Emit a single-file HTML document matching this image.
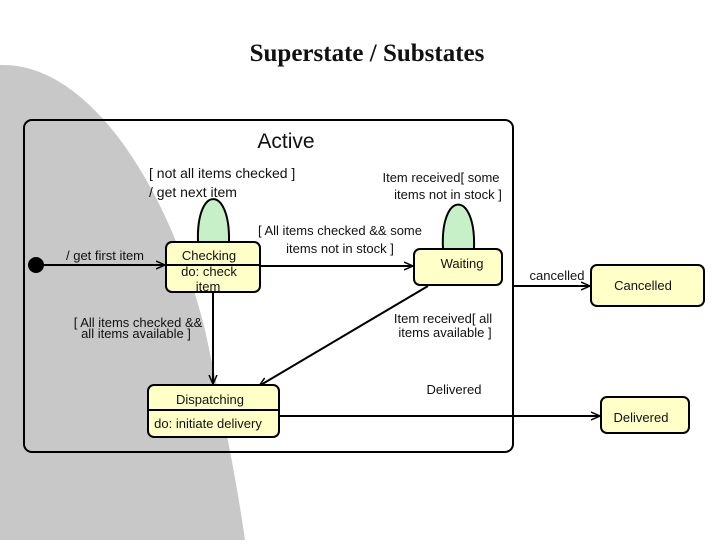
<!DOCTYPE html>
<html><head><style>
body{margin:0;width:720px;height:540px;background:#fff;overflow:hidden}
svg text{font-family:"Liberation Sans",sans-serif;font-size:13px;fill:#111}
</style></head><body>
<svg width="720" height="540" viewBox="0 0 720 540">
<defs><marker id="a" markerWidth="10" markerHeight="10" refX="9" refY="5" orient="auto" markerUnits="userSpaceOnUse"><path d="M0,1 L9,5 L0,9" fill="none" stroke="#000" stroke-width="1.5"/></marker></defs>
<path d="M0,65 C90,62 170,190 205,330 C220,400 235,470 245,540 L0,540 Z" fill="#c8c8c8"/>
<text x="367" y="61" text-anchor="middle" style="font-family:'Liberation Serif',serif;font-size:25px;font-weight:bold">Superstate / Substates</text>
<rect x="24" y="120" width="489" height="332" rx="8" fill="none" stroke="#000" stroke-width="2"/>
<text x="286" y="148" text-anchor="middle" style="font-size:21px">Active</text>
<text x="149" y="178" style="font-size:14px">[ not all items checked ]</text>
<text x="149" y="197" style="font-size:14px">/ get next item</text>
<text x="441" y="182" text-anchor="middle">Item received[ some</text>
<text x="448" y="199" text-anchor="middle">items not in stock ]</text>
<text x="340" y="235" text-anchor="middle">[ All items checked &amp;&amp; some</text>
<text x="340" y="253" text-anchor="middle">items not in stock ]</text>
<text x="105" y="260" text-anchor="middle">/ get first item</text>
<text x="138" y="327" text-anchor="middle">[ All items checked &amp;&amp;</text>
<text x="136" y="338" text-anchor="middle">all items available ]</text>
<text x="443" y="323" text-anchor="middle">Item received[ all</text>
<text x="445" y="337" text-anchor="middle">items available ]</text>
<text x="454" y="394" text-anchor="middle">Delivered</text>
<text x="557" y="280" text-anchor="middle">cancelled</text>
<path d="M198,242 C196,185 230,185 229,241" fill="#c8f0c8" stroke="#000" stroke-width="2"/>
<path d="M443,249 C440,190 476,190 474,248" fill="#c8f0c8" stroke="#000" stroke-width="2"/>
<circle cx="36" cy="265" r="8" fill="#000"/>
<line x1="44" y1="265" x2="165" y2="265" stroke="#000" stroke-width="2" marker-end="url(#a)"/>
<line x1="260" y1="266" x2="413" y2="266" stroke="#000" stroke-width="2" marker-end="url(#a)"/>
<line x1="213" y1="292" x2="213" y2="384" stroke="#000" stroke-width="2" marker-end="url(#a)"/>
<line x1="428" y1="286" x2="259" y2="386" stroke="#000" stroke-width="2" marker-end="url(#a)"/>
<line x1="513" y1="286" x2="590" y2="286" stroke="#000" stroke-width="2" marker-end="url(#a)"/>
<line x1="279" y1="416" x2="600" y2="416" stroke="#000" stroke-width="2" marker-end="url(#a)"/>
<rect x="166" y="242" width="94" height="50" rx="6" fill="#ffffc8" stroke="#000" stroke-width="2"/>
<line x1="166" y1="265" x2="260" y2="265" stroke="#000" stroke-width="2"/>
<text x="209" y="260" text-anchor="middle">Checking</text>
<text x="209" y="276" text-anchor="middle">do: check</text>
<text x="208" y="291" text-anchor="middle">item</text>
<rect x="414" y="249" width="88" height="36" rx="6" fill="#ffffc8" stroke="#000" stroke-width="2"/>
<text x="462" y="268" text-anchor="middle">Waiting</text>
<rect x="591" y="265" width="113" height="41" rx="6" fill="#ffffc8" stroke="#000" stroke-width="2"/>
<text x="643" y="290" text-anchor="middle">Cancelled</text>
<rect x="601" y="397" width="88" height="36" rx="6" fill="#ffffc8" stroke="#000" stroke-width="2"/>
<text x="641" y="422" text-anchor="middle">Delivered</text>
<rect x="148" y="385" width="131" height="52" rx="6" fill="#ffffc8" stroke="#000" stroke-width="2"/>
<line x1="148" y1="410" x2="279" y2="410" stroke="#000" stroke-width="2"/>
<text x="210" y="404" text-anchor="middle">Dispatching</text>
<text x="208" y="428" text-anchor="middle">do: initiate delivery</text>
</svg>
</body></html>
